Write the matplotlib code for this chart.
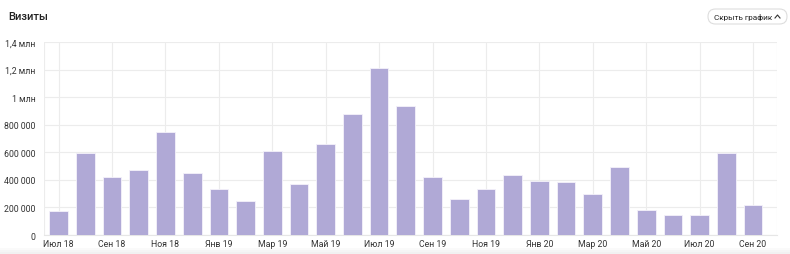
import matplotlib.pyplot as plt
from matplotlib.patches import FancyBboxPatch

months = ['Июл 18', 'Авг 18', 'Сен 18', 'Окт 18', 'Ноя 18', 'Дек 18',
          'Янв 19', 'Фев 19', 'Мар 19', 'Апр 19', 'Май 19', 'Июн 19',
          'Июл 19', 'Авг 19', 'Сен 19', 'Окт 19', 'Ноя 19', 'Дек 19',
          'Янв 20', 'Фев 20', 'Мар 20', 'Апр 20', 'Май 20', 'Июн 20',
          'Июл 20', 'Авг 20', 'Сен 20']
visits = [175000, 595000, 420000, 470000, 747000, 450000,
          334000, 247000, 610000, 370000, 660000, 877000,
          1210000, 935000, 420000, 260000, 333000, 435000,
          390000, 385000, 297000, 490000, 180000, 145000,
          145000, 595000, 218000]
yticks = [0, 200000, 400000, 600000, 800000, 1000000, 1200000, 1400000]
ylabels = ['0', '200 000', '400 000', '600 000', '800 000',
           '1 млн', '1,2 млн', '1,4 млн']

plt.rcParams['font.family'] = ['Roboto', 'DejaVu Sans']

fig = plt.figure(figsize=(7.9, 2.55), dpi=100)

# overlay in pixel coordinates for the card decorations
deco = fig.add_axes([0, 0, 1, 1], zorder=-1)
deco.set_xlim(0, 790)
deco.set_ylim(255, 0)
deco.axis('off')

ax = fig.add_axes([44 / 790, 1 - 236 / 255, 733 / 790, 193 / 255])
ax.patch.set_alpha(0)

x = list(range(len(months)))
ax.bar(x, visits, width=0.7, color='#b0a9d6', edgecolor='#f4f2fa',
       linewidth=0.6, zorder=3)

ax.set_ylim(0, 1400000)
ax.set_xlim(-0.55, 26.9)
ax.set_yticks(yticks)
ax.set_yticklabels(ylabels)
ax.set_xticks(x[::2])
ax.set_xticklabels(months[::2])
ax.tick_params(axis='both', length=0, labelsize=6.3, colors='#333333')
ax.tick_params(axis='x', pad=3)
ax.tick_params(axis='y', pad=6)
ax.grid(True, color='#ececec', linewidth=0.8, zorder=0)
for s in ['top', 'right', 'left']:
    ax.spines[s].set_visible(False)
ax.spines['bottom'].set_color('#e6e6e6')
ax.axvline(ax.get_xlim()[0], color='#ececec', linewidth=0.8, zorder=0)
ax.axvline(ax.get_xlim()[1], color='#ececec', linewidth=0.8, zorder=0)

deco.text(8, 17, 'Визиты', fontsize=8, color='#222222',
          va='center', ha='left', fontweight='medium')

# button "Скрыть график"
deco.add_patch(FancyBboxPatch((708, 10), 79, 15,
                              boxstyle='round,pad=0,rounding_size=7.5',
                              facecolor='white', edgecolor='#dddddd',
                              linewidth=0.8))
deco.text(743, 17.8, 'Скрыть график', fontsize=5.9, color='#222222',
          ha='center', va='center')
deco.plot([775, 777.5, 780], [19, 16, 19], color='#333333', linewidth=0.8)

# soft strip at the bottom of the card
for i, c in enumerate(['#fafafa', '#f5f5f5', '#f1f1f1']):
    deco.add_patch(plt.Rectangle((0, 249 + 2 * i), 790, 6 - 2 * i,
                                 facecolor=c, edgecolor='none'))

fig.savefig('out.png', dpi=100)
